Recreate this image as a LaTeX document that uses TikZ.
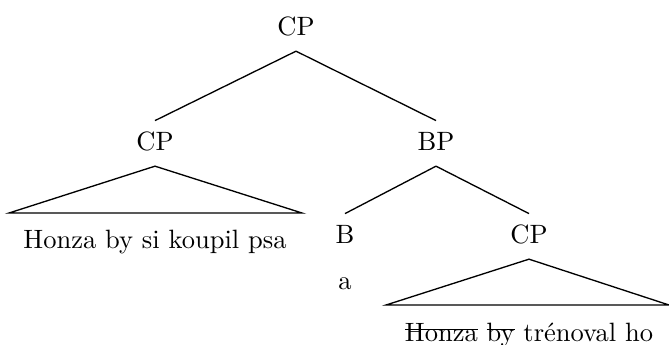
\documentclass[tikz,border=0pt]{standalone}
\usetikzlibrary{positioning}
% crossed-out (deleted) words
\newsavebox{\struckbox}
\newcommand{\struck}[1]{\sbox{\struckbox}{#1}%
  \rlap{\rule[0.95ex]{\wd\struckbox}{0.4pt}}\usebox{\struckbox}}

\begin{document}
\begin{tikzpicture}[
    x=0.3774pt,y=-0.3774pt,
    cat/.style={anchor=base,inner xsep=1pt,inner ysep=3.9pt,
      text height=7pt,text depth=2pt},
    leaf/.style={anchor=base,inner sep=1pt},
    branch/.style={line width=0.5pt}
  ]
    \useasboundingbox (0,0) rectangle (669,344);
    % categories
    \node[cat] (cp) at (296,35) {CP};
    \node[cat] (cpL) at (155,150) {CP};
    \node[cat] (bp) at (436,150) {BP};
    \node[cat] (b) at (345,243) {B};
    \node[cat] (cpR) at (529,243) {CP};
    % leaves
    \node[leaf] (a) at (345,289) {a};
    \node[leaf] (lleaf) at (155,248) {Honza by si koupil psa};
    \node[leaf] (rleaf) at (529,341) {\struck{Honza} \struck{by} trénoval ho};
    % triangle corners
    \coordinate (lL) at (9,213);
    \coordinate (lR) at (302,213);
    \coordinate (rL) at (386,305);
    \coordinate (rR) at (669,305);
    % branches
    \draw[branch] (cp.south) -- (cpL.north);
    \draw[branch] (cp.south) -- (bp.north);
    \draw[branch] (bp.south) -- (b.north);
    \draw[branch] (bp.south) -- (cpR.north);
    \draw[branch] (cpL.south) -- (lL) -- (lR) -- cycle;
    \draw[branch] (cpR.south) -- (rL) -- (rR) -- cycle;
  \end{tikzpicture}
\end{document}
